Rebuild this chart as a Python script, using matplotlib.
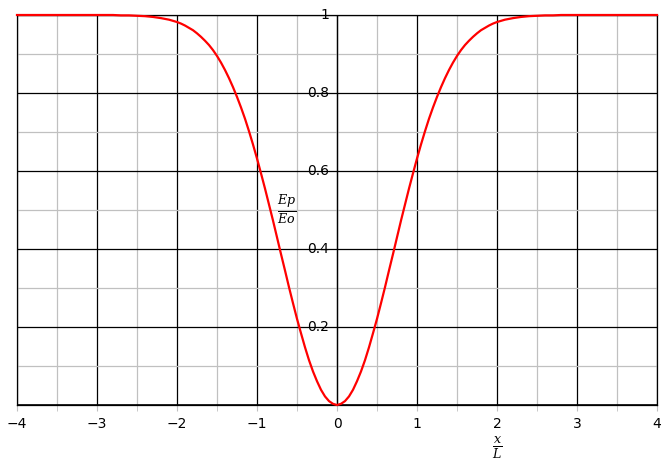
import matplotlib
matplotlib.use("Agg")

import matplotlib.pyplot as plt
from matplotlib.ticker import MultipleLocator

# values (Ep/Eo against x/L)
x_values = [
    -4.0, -3.5, -3.0, -2.9, -2.8, -2.7, -2.6, -2.5, -2.4, -2.3, -2.2, -2.1,
    -2.0, -1.95, -1.9, -1.85, -1.8, -1.75, -1.7, -1.65, -1.6, -1.55, -1.5,
    -1.45, -1.4, -1.35, -1.3, -1.25, -1.2, -1.15, -1.1, -1.05, -1.0, -0.95,
    -0.9, -0.85, -0.8, -0.75, -0.7, -0.65, -0.6, -0.55, -0.5, -0.45, -0.4,
    -0.35, -0.3, -0.25, -0.2, -0.15, -0.1, -0.05, 0.0, 0.05, 0.1, 0.15, 0.2,
    0.25, 0.3, 0.35, 0.4, 0.45, 0.5, 0.55, 0.6, 0.65, 0.7, 0.75, 0.8, 0.85,
    0.9, 0.95, 1.0, 1.05, 1.1, 1.15, 1.2, 1.25, 1.3, 1.35, 1.4, 1.45, 1.5,
    1.55, 1.6, 1.65, 1.7, 1.75, 1.8, 1.85, 1.9, 1.95, 2.0, 2.1, 2.2, 2.3,
    2.4, 2.5, 2.6, 2.7, 2.8, 2.9, 3.0, 3.5, 4.0,
]
ep_eo_values = [
    1.000, 1.000, 1.000, 1.000, 1.000, 0.999, 0.999, 0.998, 0.997, 0.995,
    0.992, 0.988, 0.982, 0.978, 0.973, 0.967, 0.961, 0.953, 0.944, 0.934,
    0.923, 0.910, 0.895, 0.878, 0.859, 0.838, 0.815, 0.790, 0.763, 0.734,
    0.702, 0.668, 0.632, 0.594, 0.555, 0.514, 0.473, 0.430, 0.387, 0.345,
    0.302, 0.261, 0.221, 0.184, 0.148, 0.115, 0.086, 0.061, 0.039, 0.022,
    0.010, 0.003, 0.000, 0.003, 0.010, 0.022, 0.039, 0.061, 0.086, 0.115,
    0.148, 0.184, 0.221, 0.261, 0.302, 0.345, 0.387, 0.430, 0.473, 0.514,
    0.555, 0.594, 0.632, 0.668, 0.702, 0.734, 0.763, 0.790, 0.815, 0.838,
    0.859, 0.878, 0.895, 0.910, 0.923, 0.934, 0.944, 0.953, 0.961, 0.967,
    0.973, 0.978, 0.982, 0.988, 0.992, 0.995, 0.997, 0.998, 0.999, 0.999,
    1.000, 1.000, 1.000, 1.000, 1.000,
]
x_tick_values = [-4, -3, -2, -1, 0, 1, 2, 3, 4]
x_tick_labels = ["\u22124", "\u22123", "\u22122", "\u22121", "0", "1", "2", "3", "4"]
y_tick_values = [0.2, 0.4, 0.6, 0.8, 1.0]
y_tick_labels = ["0.2", "0.4", "0.6", "0.8", "1"]

figure = plt.figure(figsize=(6.68, 4.68), dpi=100)
axes = figure.add_axes([17 / 668, 63 / 468, 640 / 668, 390 / 468])

axes.set_xlim(-4, 4)
axes.set_ylim(0, 1)

axes.xaxis.set_minor_locator(MultipleLocator(0.5))
axes.yaxis.set_minor_locator(MultipleLocator(0.1))
axes.grid(True, which="minor", color="#c0c0c0", linewidth=0.9)
axes.grid(True, which="major", color="black", linewidth=0.9)
axes.set_axisbelow(True)

for spine in axes.spines.values():
    spine.set_color("black")
    spine.set_linewidth(0.9)

axes.axvline(0, color="black", linewidth=0.9, zorder=1)
axes.axhline(0, color="black", linewidth=1.2, zorder=1)

axes.plot(x_values, ep_eo_values, color="red", linewidth=1.6, clip_on=False, zorder=3)

axes.set_xticks(x_tick_values)
axes.set_xticklabels(x_tick_labels)
axes.tick_params(axis="x", which="both", length=4, color="#c0c0c0", labelsize=10, pad=5)
axes.set_yticks(y_tick_values)
axes.set_yticklabels([])
axes.tick_params(axis="y", which="both", length=0)

# y tick labels sit next to the x = 0 axis
for value, text in zip(y_tick_values, y_tick_labels):
    axes.text(-0.1, value, text, ha="right", va="center", fontsize=10)

axes.text(-0.63, 0.5, r"$\frac{Ep}{Eo}$", ha="center", va="center", fontsize=13,
          math_fontfamily="dejavuserif")
figure.text(497 / 668, 1 - 448 / 468, r"$\frac{x}{L}$", ha="center", va="center",
            fontsize=13, math_fontfamily="dejavuserif")

figure.savefig("out.png", dpi=100)
